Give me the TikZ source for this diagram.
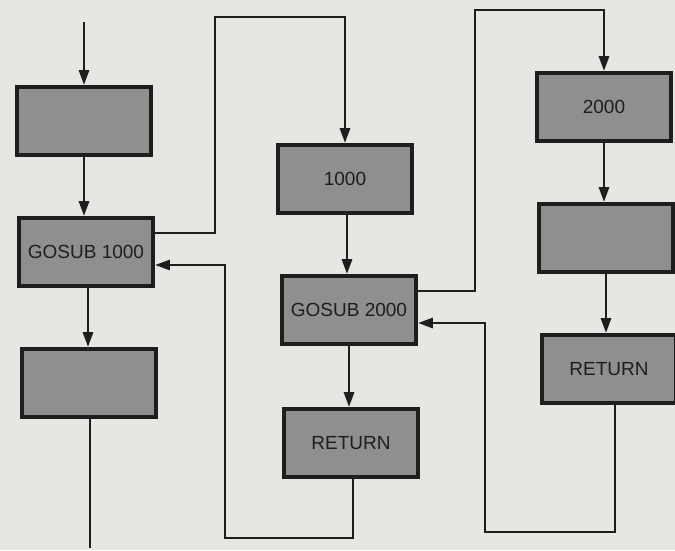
\documentclass[tikz,border=0pt]{standalone}
\usepackage{fontspec}
\setmainfont{Liberation Sans}
\usepackage{tikz}
\usetikzlibrary{arrows.meta}
\definecolor{paper}{HTML}{E6E6E3}
\definecolor{boxfill}{HTML}{8F8F8D}
\definecolor{ink}{HTML}{1E1E1E}

\begin{document}
\begin{tikzpicture}[x=1pt, y=-1pt,
    stepbox/.style={shape=rectangle, draw=ink, fill=boxfill, line width=3.8pt,
        minimum width=134pt, minimum height=68pt, inner sep=0pt,
        text=ink, font=\fontsize{19}{21}\selectfont},
    flow/.style={draw=ink, line width=2.9pt, -{Triangle[length=15pt,width=10pt]}},
    plain/.style={draw=ink, line width=2.9pt}]
        % Background
        \fill[paper] (0,0) rectangle (675,550);
        \useasboundingbox (0,0) rectangle (675,550);
        % Main program
        \node[stepbox] (L1) at (84, 121) {};
        \node[stepbox] (L2) at (86, 252) {GOSUB 1000};
        \node[stepbox] (L3) at (89, 383) {};
        % Subroutine 1000
        \node[stepbox] (M1) at (345, 179) {1000};
        \node[stepbox] (M2) at (349, 310) {GOSUB 2000};
        \node[stepbox] (M3) at (351, 443) {RETURN};
        % Subroutine 2000
        \node[stepbox] (R1) at (604, 107) {2000};
        \node[stepbox] (R2) at (606, 238) {};
        \node[stepbox] (R3) at (609, 369) {RETURN};
        % Free ends and corners
        \coordinate (in) at (84, 22);
        \coordinate (out) at (90, 548);
        \coordinate (C1) at (215, 17);
        \coordinate (B1) at (225, 538);
        \coordinate (C2) at (475, 10);
        \coordinate (B2) at (485, 532);
        % Arrows
        \path[flow] (in) -- (L1.north);
        \path[flow] (L1.south) -- (L1.south |- L2.north);
        \path[flow] ([xshift=2pt]L2.south) -- ([xshift=2pt]L2.south |- L3.north);
        \path[plain] ([xshift=1pt]L3.south) -- (out);
        \path[flow] ([xshift=2pt]M1.south) -- ([xshift=2pt]M1.south |- M2.north);
        \path[flow] (M2.south) -- (M2.south |- M3.north);
        \path[flow] (R1.south) -- (R1.south |- R2.north);
        \path[flow] (R2.south) -- (R2.south |- R3.north);
        % Calls and returns
        \path[flow] ([yshift=19pt]L2.east) -| (C1) -| (M1.north);
        \path[flow] ([xshift=2pt]M3.south) |- (B1) |- ([yshift=-13pt]L2.east);
        \path[flow] ([yshift=19pt]M2.east) -| (C2) -| (R1.north);
        \path[flow] ([xshift=6pt]R3.south) |- (B2) |- ([yshift=-13pt]M2.east);
    \end{tikzpicture}
\end{document}
